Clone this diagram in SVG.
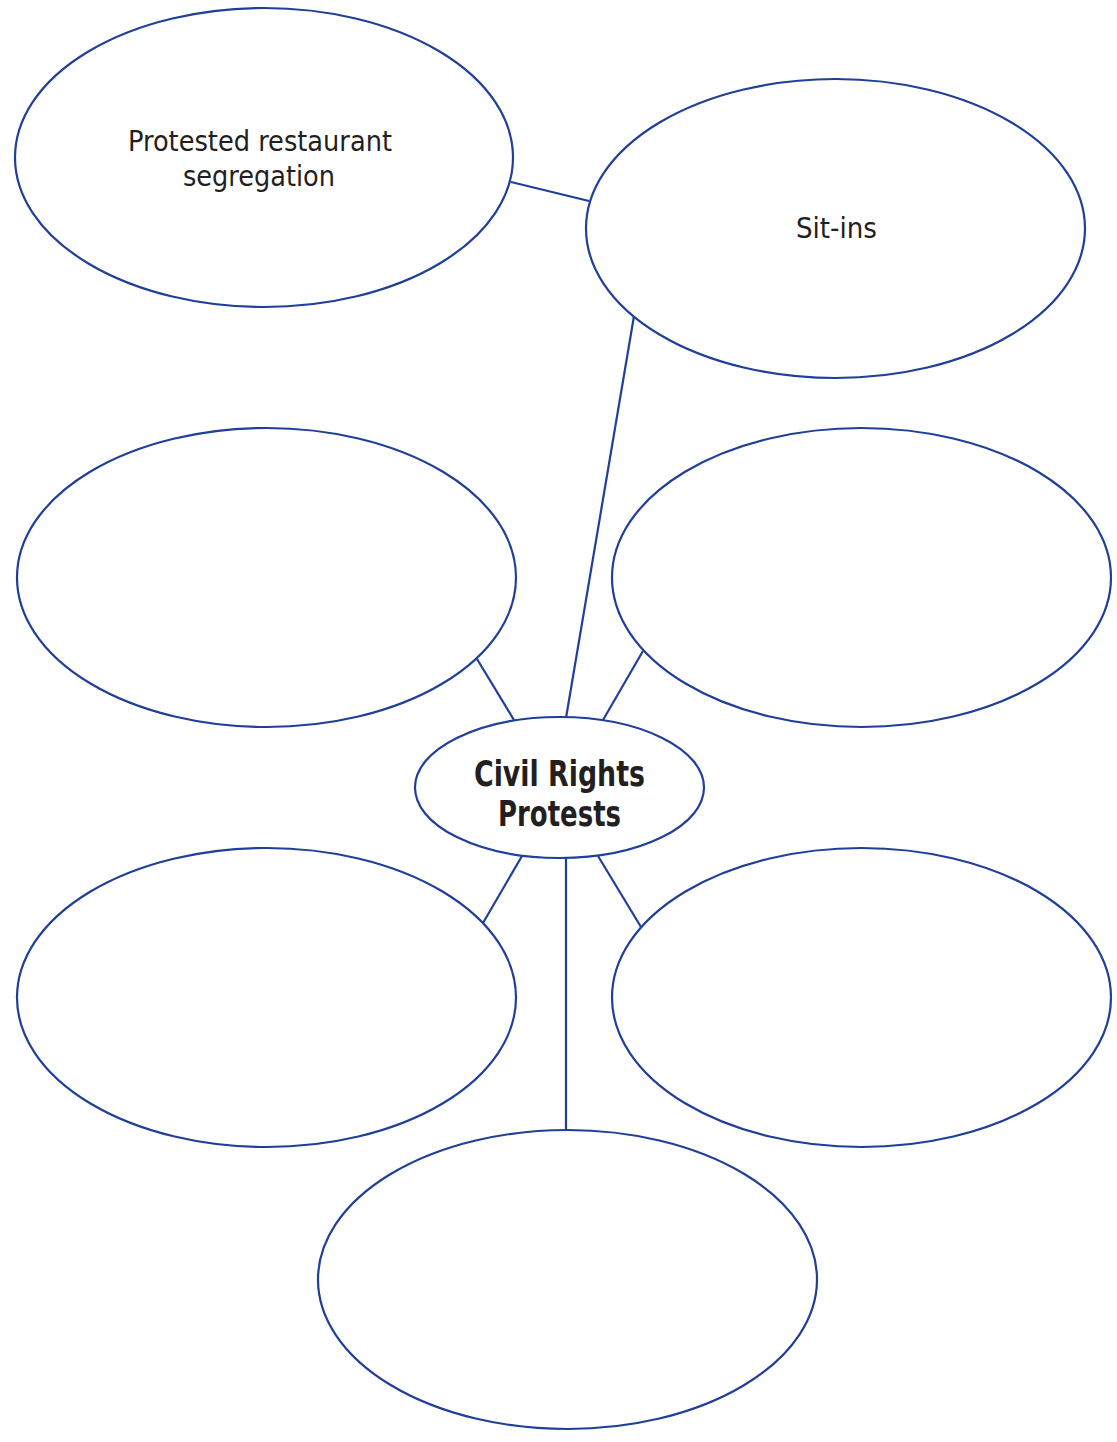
<svg xmlns="http://www.w3.org/2000/svg" width="1117" height="1442" viewBox="0 0 1117 1442">
<style>
.n{fill:#fff;stroke:#1f3f99;stroke-width:2.2}
.c line{stroke:#1f3f99;stroke-width:2.2}
.t{font-family:"Liberation Sans Narrow","DejaVu Sans Condensed","Liberation Sans",sans-serif;font-size:28px;fill:#231f20;text-anchor:middle}
.b{font-family:"Liberation Sans Narrow","DejaVu Sans Condensed","Liberation Sans",sans-serif;font-size:35px;font-weight:bold;fill:#231f20;text-anchor:middle}
</style>
<rect width="1117" height="1442" fill="#fff"/>
<g class="c" id="connectors">
<line x1="511" y1="182" x2="589" y2="201"/>
<line x1="634" y1="316" x2="566" y2="718"/>
<line x1="477" y1="659" x2="514" y2="720"/>
<line x1="643" y1="651" x2="603" y2="720"/>
<line x1="522" y1="856" x2="483" y2="923"/>
<line x1="598" y1="856" x2="641" y2="927"/>
<line x1="566" y1="858" x2="566" y2="1130"/>
</g>
<g id="n-restaurant"><ellipse class="n" cx="264" cy="157.5" rx="249" ry="149.5"/><text class="t" x="260" y="151" textLength="264" lengthAdjust="spacingAndGlyphs">Protested restaurant</text><text class="t" x="259" y="186" textLength="152" lengthAdjust="spacingAndGlyphs">segregation</text></g>
<g id="n-sitins"><ellipse class="n" cx="835.5" cy="228.5" rx="249.5" ry="149.5"/><text class="t" x="836.5" y="238" textLength="81" lengthAdjust="spacingAndGlyphs">Sit-ins</text></g>
<g id="n-midleft"><ellipse class="n" cx="266.5" cy="577.5" rx="249.5" ry="149.5"/></g>
<g id="n-midright"><ellipse class="n" cx="861.5" cy="577.5" rx="249.5" ry="149.5"/></g>
<g id="n-center"><ellipse class="n" cx="559.5" cy="787.5" rx="144.5" ry="70.5"/><text class="b" x="559.5" y="786" textLength="171" lengthAdjust="spacingAndGlyphs">Civil Rights</text><text class="b" x="559.5" y="826" textLength="123" lengthAdjust="spacingAndGlyphs">Protests</text></g>
<g id="n-botleft"><ellipse class="n" cx="266.5" cy="997.5" rx="249.5" ry="149.5"/></g>
<g id="n-botright"><ellipse class="n" cx="861.5" cy="997.5" rx="249.5" ry="149.5"/></g>
<g id="n-bottom"><ellipse class="n" cx="567.5" cy="1279.5" rx="249.5" ry="149.5"/></g>
</svg>
